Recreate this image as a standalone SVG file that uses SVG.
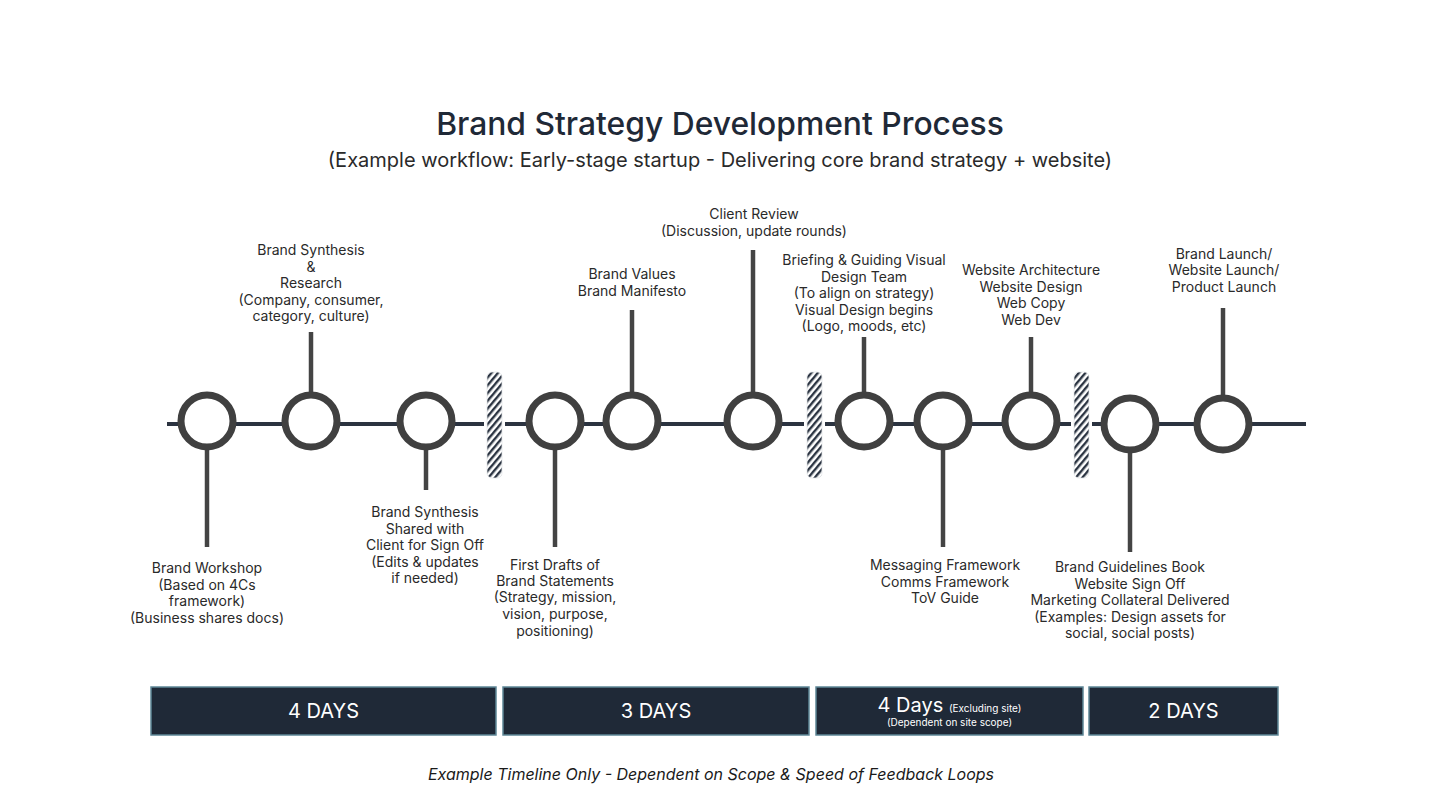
<svg xmlns="http://www.w3.org/2000/svg" width="1440" height="810" viewBox="0 0 1440 810">
<defs>
<pattern id="hatch" patternUnits="userSpaceOnUse" width="5" height="5" patternTransform="rotate(-50)">
<rect width="5" height="5" fill="#ffffff"/>
<rect width="5" height="2.4" fill="#2b3442"/>
</pattern>
</defs>
<style>
.lbl{font-family:Inter,"Liberation Sans",sans-serif;font-size:14px;fill:#2a2a2a;text-anchor:middle}
.node circle{fill:#ffffff;stroke:#404040;stroke-width:7}
.stem{stroke:#444444;stroke-width:4.5;fill:none}
.box rect{fill:#1f2937;stroke:#5e8797;stroke-width:1.5}
.box text{font-family:Inter,"Liberation Sans",sans-serif;fill:#ffffff;text-anchor:middle}
</style>
<rect width="1440" height="810" fill="#ffffff"/>
<text x="720" y="135" font-family="Inter,'Liberation Sans',sans-serif" font-size="31.8" font-weight="500" fill="#1f2937" text-anchor="middle">Brand Strategy Development Process</text>
<text x="720" y="167" font-family="Inter,'Liberation Sans',sans-serif" font-size="20" fill="#2a2a2a" text-anchor="middle">(Example workflow: Early-stage startup - Delivering core brand strategy + website)</text>

<g id="connectors">
<line x1="167" y1="424" x2="1306" y2="424" stroke="#2b3340" stroke-width="4"/>
<line class="stem" x1="207" y1="424" x2="207" y2="547"/>
<line class="stem" x1="311" y1="332" x2="311" y2="424"/>
<line class="stem" x1="426" y1="424" x2="426" y2="490"/>
<line class="stem" x1="555" y1="424" x2="555" y2="547"/>
<line class="stem" x1="632" y1="310" x2="632" y2="424"/>
<line class="stem" x1="753" y1="250" x2="753" y2="424"/>
<line class="stem" x1="864" y1="337" x2="864" y2="424"/>
<line class="stem" x1="943" y1="424" x2="943" y2="547"/>
<line class="stem" x1="1031" y1="337" x2="1031" y2="424"/>
<line class="stem" x1="1130" y1="424" x2="1130" y2="552"/>
<line class="stem" x1="1223" y1="308" x2="1223" y2="424"/>
</g>

<g id="breaks">
<rect x="484" y="368" width="21" height="114" fill="#ffffff"/>
<rect x="487" y="372" width="15" height="106" rx="5" fill="url(#hatch)" stroke="#e4e7ea" stroke-width="0.8"/>
<rect x="804" y="368" width="21" height="114" fill="#ffffff"/>
<rect x="807" y="372" width="15" height="106" rx="5" fill="url(#hatch)" stroke="#e4e7ea" stroke-width="0.8"/>
<rect x="1071" y="368" width="21" height="114" fill="#ffffff"/>
<rect x="1074" y="372" width="15" height="106" rx="5" fill="url(#hatch)" stroke="#e4e7ea" stroke-width="0.8"/>
</g>

<g id="n1" class="node"><circle cx="207" cy="421" r="26"/>
<text class="lbl"><tspan x="207" y="573">Brand Workshop</tspan><tspan x="207" y="590">(Based on 4Cs</tspan><tspan x="207" y="606">framework)</tspan><tspan x="207" y="623">(Business shares docs)</tspan></text></g>
<g id="n2" class="node"><circle cx="311" cy="421" r="26"/>
<text class="lbl"><tspan x="311" y="255">Brand Synthesis</tspan><tspan x="311" y="272">&amp;</tspan><tspan x="311" y="288">Research</tspan><tspan x="311" y="305">(Company, consumer,</tspan><tspan x="311" y="321">category, culture)</tspan></text></g>
<g id="n3" class="node"><circle cx="426" cy="421" r="26"/>
<text class="lbl"><tspan x="425" y="517">Brand Synthesis</tspan><tspan x="425" y="534">Shared with</tspan><tspan x="425" y="550">Client for Sign Off</tspan><tspan x="425" y="567">(Edits &amp; updates</tspan><tspan x="425" y="583">if needed)</tspan></text></g>
<g id="n4" class="node"><circle cx="555" cy="421" r="26"/>
<text class="lbl"><tspan x="555" y="570">First Drafts of</tspan><tspan x="555" y="586">Brand Statements</tspan><tspan x="555" y="602">(Strategy, mission,</tspan><tspan x="555" y="619">vision, purpose,</tspan><tspan x="555" y="636">positioning)</tspan></text></g>
<g id="n5" class="node"><circle cx="632" cy="421" r="26"/>
<text class="lbl"><tspan x="632" y="279">Brand Values</tspan><tspan x="632" y="296">Brand Manifesto</tspan></text></g>
<g id="n6" class="node"><circle cx="753" cy="421" r="26"/>
<text class="lbl"><tspan x="754" y="219">Client Review</tspan><tspan x="754" y="236">(Discussion, update rounds)</tspan></text></g>
<g id="n7" class="node"><circle cx="864" cy="421" r="26"/>
<text class="lbl"><tspan x="864" y="265">Briefing &amp; Guiding Visual</tspan><tspan x="864" y="282">Design Team</tspan><tspan x="864" y="298">(To align on strategy)</tspan><tspan x="864" y="315">Visual Design begins</tspan><tspan x="864" y="331">(Logo, moods, etc)</tspan></text></g>
<g id="n8" class="node"><circle cx="943" cy="421" r="26"/>
<text class="lbl"><tspan x="945" y="570">Messaging Framework</tspan><tspan x="945" y="587">Comms Framework</tspan><tspan x="945" y="603">ToV Guide</tspan></text></g>
<g id="n9" class="node"><circle cx="1031" cy="421" r="26"/>
<text class="lbl"><tspan x="1031" y="275">Website Architecture</tspan><tspan x="1031" y="292">Website Design</tspan><tspan x="1031" y="308">Web Copy</tspan><tspan x="1031" y="325">Web Dev</tspan></text></g>
<g id="n10" class="node"><circle cx="1130" cy="424" r="26"/>
<text class="lbl"><tspan x="1130" y="572">Brand Guidelines Book</tspan><tspan x="1130" y="589">Website Sign Off</tspan><tspan x="1130" y="605">Marketing Collateral Delivered</tspan><tspan x="1130" y="622">(Examples: Design assets for</tspan><tspan x="1130" y="638">social, social posts)</tspan></text></g>
<g id="n11" class="node"><circle cx="1223" cy="424" r="26"/>
<text class="lbl"><tspan x="1224" y="259">Brand Launch/</tspan><tspan x="1224" y="275">Website Launch/</tspan><tspan x="1224" y="292">Product Launch</tspan></text></g>

<g id="box1" class="box"><rect x="151" y="687" width="345" height="48"/><text x="323.5" y="718" font-size="20">4 DAYS</text></g>
<g id="box2" class="box"><rect x="503" y="687" width="306" height="48"/><text x="656" y="718" font-size="20">3 DAYS</text></g>
<g id="box3" class="box"><rect x="816" y="687" width="267" height="48"/><text x="949.5" y="712"><tspan font-size="20">4 Days </tspan><tspan font-size="10">(Excluding site)</tspan></text><text x="949.5" y="726" font-size="10">(Dependent on site scope)</text></g>
<g id="box4" class="box"><rect x="1089" y="687" width="189" height="48"/><text x="1183.5" y="718" font-size="20">2 DAYS</text></g>

<text x="711" y="780" font-family="Inter,'Liberation Sans',sans-serif" font-size="16" font-style="italic" fill="#1a1a1a" text-anchor="middle">Example Timeline Only - Dependent on Scope &amp; Speed of Feedback Loops</text>
</svg>
